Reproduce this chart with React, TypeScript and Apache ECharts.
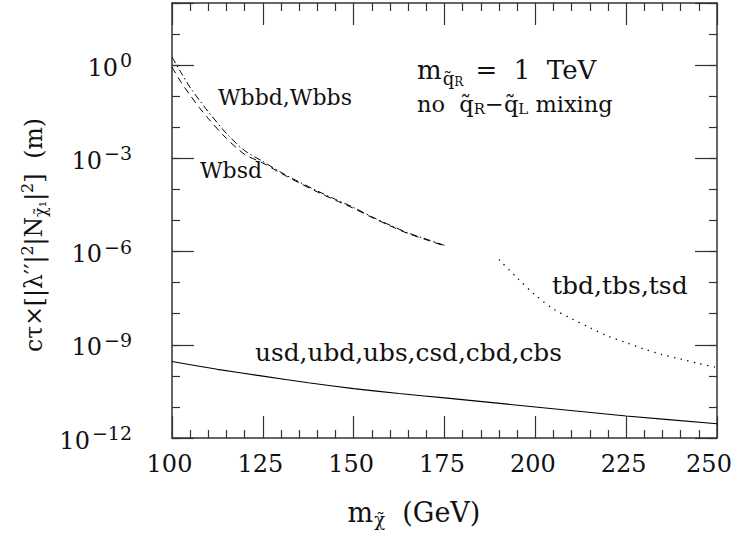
import React, { useEffect, useRef } from "react";
import * as echarts from "echarts";

// x axis (neutralino mass, GeV)
const xMin = 100;
const xMax = 250;
const xMajorStep = 25;
// y axis: log10 of c*tau*[...] in metres
const yMinExp = -12;
const yMaxExp = 2;
const yMajorStep = 3;

// Wbbd,Wbbs (dash-dot) and Wbsd (dashed) — log10 values
const wMass = [100, 102.5, 105, 107.5, 110, 115, 120, 125, 130, 135, 140, 145, 150, 155, 160, 165, 170, 175];
const wbbdLog = [0.26, -0.24, -0.72, -1.12, -1.5, -2.2, -2.75, -3.1, -3.45, -3.76, -4.05, -4.32, -4.58, -4.88, -5.15, -5.4, -5.6, -5.8];
const wbsdLog = [-0.06, -0.55, -0.97, -1.36, -1.72, -2.36, -2.87, -3.15, -3.48, -3.79, -4.08, -4.35, -4.61, -4.9, -5.17, -5.42, -5.62, -5.82];

// usd,ubd,ubs,csd,cbd,cbs (solid)
const lightMass = [100, 112.5, 125, 137.5, 150, 162.5, 175, 200, 225, 250];
const lightLog = [-9.54, -9.79, -10.01, -10.22, -10.41, -10.57, -10.71, -11.0, -11.29, -11.54];

// tbd,tbs,tsd (dotted)
const topMass = [190, 195, 200, 205, 210, 215, 220, 225, 230, 235, 240, 245, 250];
const topLog = [-6.26, -6.85, -7.4, -7.85, -8.16, -8.45, -8.72, -8.93, -9.14, -9.32, -9.46, -9.6, -9.73];

const FONT = '"DejaVu Serif", "Liberation Serif", serif';
const INK = "#111";
const AXIS = "#333";

const pairs = (xs: number[], ys: number[]) => xs.map((x, i) => [x, ys[i]]);

export default function App() {
  const ref = useRef<HTMLDivElement>(null);

  useEffect(() => {
    if (!ref.current) return;
    const chart = echarts.init(ref.current, undefined, { renderer: "svg" });

    const baseX = {
      type: "value" as const,
      min: xMin,
      max: xMax,
      interval: xMajorStep,
      axisLine: { show: true, onZero: false, lineStyle: { color: AXIS, width: 1.5 } },
      axisTick: { show: true, inside: true, length: 22, lineStyle: { color: AXIS, width: 1.2 } },
      minorTick: { show: true, splitNumber: 5, length: 8, lineStyle: { color: AXIS, width: 1.2 } },
      splitLine: { show: false },
      minorSplitLine: { show: false },
    };
    const baseY = (interval: number, tickLen: number, showLine: boolean) => ({
      type: "value" as const,
      min: yMinExp,
      max: yMaxExp,
      interval,
      axisLine: { show: showLine, onZero: false, lineStyle: { color: AXIS, width: 1.5 } },
      axisTick: { show: true, inside: true, length: tickLen, lineStyle: { color: AXIS, width: 1.2 } },
      splitLine: { show: false },
      axisLabel: { show: false },
    });

    const option: any = {
      animation: false,
      backgroundColor: "#fff",
      textStyle: { fontFamily: FONT, color: INK },
      grid: { left: 172, right: 21, top: 3, bottom: 100, containLabel: false },
      xAxis: [
        {
          ...baseX,
          position: "bottom",
          axisLabel: {
            show: true,
            margin: 14,
            formatter: (v: number) => (v === xMax ? `{e|${v}}` : `{n|${v}}`),
            rich: {
              n: { fontFamily: FONT, fontSize: 24, color: INK, padding: [0, 5, 0, 0] },
              e: { fontFamily: FONT, fontSize: 24, color: INK, padding: [0, 16, 0, 0] },
            },
          },
        },
        { ...baseX, position: "top", axisLabel: { show: false } },
      ],
      yAxis: [
        {
          ...baseY(yMajorStep, 22, true),
          position: "left",
          axisLabel: {
            show: true,
            margin: 40,
            formatter: (v: number) => {
              const e = Math.round(v);
              if (e > 0) return "";
              return `{b|10}{s|${e === 0 ? "0" : "\u2212" + Math.abs(e)}}`;
            },
            rich: {
              b: { fontFamily: FONT, fontSize: 24, color: INK, padding: [5, 0, 0, 0] },
              s: { fontFamily: FONT, fontSize: 19, color: INK, padding: [0, 0, 10, 2] },
            },
          },
        },
        { ...baseY(1, 8, false), position: "left" },
        { ...baseY(yMajorStep, 22, true), position: "right" },
        { ...baseY(1, 8, false), position: "right" },
      ],
      series: [
        {
          name: "Wbbd,Wbbs",
          type: "line",
          xAxisIndex: 0,
          yAxisIndex: 0,
          data: pairs(wMass, wbbdLog),
          showSymbol: false,
          symbol: "none",
          smooth: 0.3,
          lineStyle: { color: "#000", width: 1, type: [7, 3, 1.5, 3] },
        },
        {
          name: "Wbsd",
          type: "line",
          xAxisIndex: 0,
          yAxisIndex: 0,
          data: pairs(wMass, wbsdLog),
          showSymbol: false,
          symbol: "none",
          smooth: 0.3,
          lineStyle: { color: "#000", width: 1, type: [7, 5] },
        },
        {
          name: "usd,ubd,ubs,csd,cbd,cbs",
          type: "line",
          xAxisIndex: 0,
          yAxisIndex: 0,
          data: pairs(lightMass, lightLog),
          showSymbol: false,
          symbol: "none",
          smooth: 0.3,
          lineStyle: { color: "#000", width: 1.1 },
        },
        {
          name: "tbd,tbs,tsd",
          type: "line",
          xAxisIndex: 0,
          yAxisIndex: 0,
          data: pairs(topMass, topLog),
          showSymbol: false,
          symbol: "none",
          smooth: 0.3,
          lineStyle: { color: "#000", width: 1.3, type: [1.3, 5.5] },
        },
      ],
      graphic: [
        {
          type: "text",
          x: 218,
          y: 97,
          style: { text: "Wbbd,Wbbs", fontFamily: FONT, fontSize: 22, fill: INK, align: "left", verticalAlign: "middle" },
        },
        {
          type: "text",
          x: 200,
          y: 170,
          style: { text: "Wbsd", fontFamily: FONT, fontSize: 22, fill: INK, align: "left", verticalAlign: "middle" },
        },
        {
          type: "text",
          x: 255,
          y: 352,
          style: { text: "usd,ubd,ubs,csd,cbd,cbs", fontFamily: FONT, fontSize: 24.8, fill: INK, align: "left", verticalAlign: "middle" },
        },
        {
          type: "text",
          x: 552,
          y: 285,
          style: { text: "tbd,tbs,tsd", fontFamily: FONT, fontSize: 25, fill: INK, align: "left", verticalAlign: "middle" },
        },
        {
          type: "text",
          x: 417,
          y: 70,
          style: {
            text: "{a|m}{q|q\u0303}{r|R}{a| =  1  TeV}",
            align: "left",
            verticalAlign: "middle",
            rich: {
              a: { fontFamily: FONT, fontSize: 26, fill: INK, color: INK },
              q: { fontFamily: FONT, fontSize: 18, fill: INK, color: INK, padding: [16, 0, 0, 1] },
              r: { fontFamily: FONT, fontSize: 12, fill: INK, color: INK, padding: [24, 4, 0, 0] },
            },
          },
        },
        {
          type: "text",
          x: 417,
          y: 104,
          style: {
            text: "{a|no  q\u0303}{r|R}{a|\u2212q\u0303}{r|L}{a| mixing}",
            align: "left",
            verticalAlign: "middle",
            rich: {
              a: { fontFamily: FONT, fontSize: 22.5, fill: INK, color: INK },
              r: { fontFamily: FONT, fontSize: 15, fill: INK, color: INK, padding: [10, 0, 0, 0] },
            },
          },
        },
        {
          type: "text",
          x: 414,
          y: 512,
          style: {
            text: "{a|m}{c|\u03c7\u0303}{a|  (GeV)}",
            align: "center",
            verticalAlign: "middle",
            rich: {
              a: { fontFamily: FONT, fontSize: 27, fill: INK, color: INK },
              c: { fontFamily: FONT, fontSize: 18, fill: INK, color: INK, padding: [14, 0, 0, 1] },
            },
          },
        },
        {
          type: "text",
          x: 34,
          y: 235,
          rotation: Math.PI / 2,
          style: {
            text: "{a|c\u03c4\u00d7[|\u03bb\u2032\u2032|}{p|2}{a||N}{c|\u03c7\u0303\u2081}{a||}{p|2}{a|]  (m)}",
            align: "center",
            verticalAlign: "middle",
            rich: {
              a: { fontFamily: FONT, fontSize: 23.5, fill: INK, color: INK },
              p: { fontFamily: FONT, fontSize: 16, fill: INK, color: INK, padding: [0, 0, 14, 0] },
              c: { fontFamily: FONT, fontSize: 16, fill: INK, color: INK, padding: [13, 0, 0, 0] },
            },
          },
        },
      ],
    };

    chart.setOption(option);
    return () => chart.dispose();
  }, []);

  return (
    <div
      ref={ref}
      style={{ position: "fixed", left: 0, top: 0, width: 738, height: 538, background: "#fff" }}
    />
  );
}
